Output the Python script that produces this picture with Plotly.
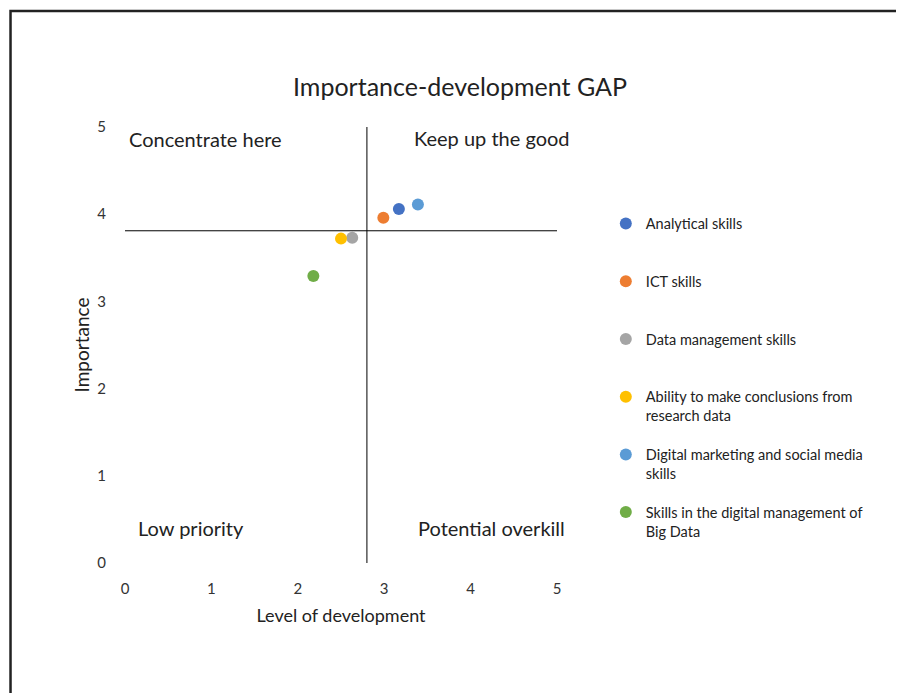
import plotly.graph_objects as go

# skills and their scores
skills = ["Analytical skills", "ICT skills", "Data management skills",
          "Ability to make conclusions from<br>research data",
          "Digital marketing and social media<br>skills",
          "Skills in the digital management of<br>Big Data"]
development = [3.17, 2.99, 2.63, 2.50, 3.39, 2.18]
importance = [4.06, 3.96, 3.73, 3.72, 4.11, 3.29]
colors = ["#4472C4", "#ED7D31", "#A5A5A5", "#FFC000", "#5B9BD5", "#70AD47"]

# quadrant split lines
dev_split = 2.8
imp_split = 3.81

FONT = "Lato"

fig = go.Figure()
for name, x, y, c in zip(skills, development, importance, colors):
    # pad single-line names so every legend entry has the same height
    label = name if "<br>" in name else name + "<br>&nbsp;"
    fig.add_trace(go.Scatter(x=[x], y=[y], mode="markers", name=label,
                             legendgroup=name,
                             marker=dict(color=c, size=12)))

fig.add_shape(type="line", x0=dev_split, x1=dev_split, y0=0, y1=5,
              line=dict(color="black", width=1))
fig.add_shape(type="line", x0=0, x1=5, y0=imp_split, y1=imp_split,
              line=dict(color="black", width=1))

# outer frame of the picture
fig.add_shape(type="rect", xref="paper", yref="paper",
              x0=-0.265, x1=1.9, y0=-0.4, y1=1.266,
              line=dict(color="#222222", width=2.5))

quads = [("Concentrate here", 0.0, 4.86), ("Keep up the good", 3.3, 4.87),
         ("Low priority", 0.1, 0.40), ("Potential overkill", 3.35, 0.40)]
for txt, qx, qy in quads:
    fig.add_annotation(x=qx, y=qy, text=txt, showarrow=False,
                       xanchor="left", yanchor="middle", xshift=2,
                       font=dict(family=FONT, size=20, color="#222222"))

fig.update_layout(
    width=896, height=685,
    margin=dict(l=117, r=347, t=119, b=130),
    plot_bgcolor="white", paper_bgcolor="white",
    title=dict(text="Importance-development GAP", x=452 / 896,
               xanchor="center", xref="container", y=1 - 79 / 685,
               yanchor="middle",
               font=dict(family=FONT, size=25, color="#222222")),
    font=dict(family=FONT, color="#333333"),
    showlegend=True,
    legend=dict(x=1.113, xanchor="left", y=0.815, yanchor="top",
                valign="top", tracegroupgap=17,
                font=dict(family=FONT, size=14.5, color="#222222")),
    xaxis=dict(range=[0, 5], dtick=1, showgrid=False, zeroline=False,
               showline=False, ticks="outside", ticklen=12,
               tickcolor="rgba(0,0,0,0)", tickfont=dict(size=15),
               title=dict(text="Level of development", standoff=13,
                          font=dict(size=18, color="#222222"))),
    yaxis=dict(range=[0, 5], dtick=1, showgrid=False, zeroline=False,
               showline=False, ticks="outside", ticklen=15,
               tickcolor="rgba(0,0,0,0)", tickfont=dict(size=15),
               title=dict(text="Importance", standoff=2,
                          font=dict(size=19, color="#222222"))),
)

fig.write_html("out.html")
